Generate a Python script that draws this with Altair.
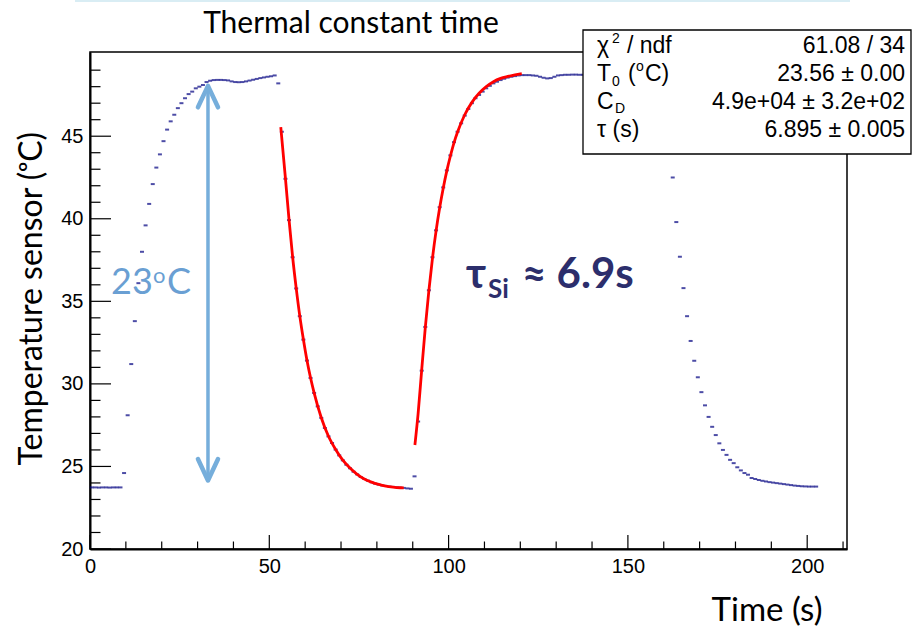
import altair as alt
import numpy as np
import pandas as pd

# ---------------- data (1 s sampling) ----------------
flat_start = [23.73, 23.73, 23.72, 23.73, 23.73, 23.72, 23.73, 23.73, 23.73]
rise_1 = [24.6, 28.1, 31.2, 33.8, 36.1, 38.0, 39.6, 40.9, 42.1, 43.1, 43.9, 44.7,
          45.4, 45.9, 46.3, 46.7, 47.0, 47.3, 47.55, 47.7, 47.9, 48.0, 48.1, 48.28, 48.36]
plateau_1 = [48.4, 48.41, 48.41, 48.4, 48.38, 48.32, 48.28, 48.27, 48.28, 48.32,
             48.37, 48.42, 48.47, 48.52, 48.56, 48.6, 48.63, 48.68, 48.2]
decay_1 = [45.27, 42.42, 39.92, 37.67, 35.78, 34.1, 32.68, 31.41, 30.36, 29.45,
           28.64, 27.94, 27.33, 26.82, 26.42, 26.02, 25.67, 25.37, 25.11, 24.89,
           24.68, 24.52, 24.36, 24.24, 24.14, 24.04, 23.96, 23.9, 23.85, 23.82,
           23.78, 23.76, 23.74, 23.72, 23.7, 23.67, 23.65]
rise_2 = [24.4, 27.72, 30.8, 33.45, 35.67, 37.67, 39.3, 40.7, 41.9, 42.93, 43.84,
          44.64, 45.27, 45.78, 46.25, 46.65, 47.0, 47.3, 47.5, 47.7, 47.9, 48.05,
          48.2, 48.3, 48.4, 48.48, 48.55, 48.6, 48.64, 48.68, 48.7]
plateau_2 = [48.7, 48.7, 48.68, 48.66, 48.6, 48.54, 48.5, 48.52, 48.6, 48.68, 48.7,
             48.72, 48.72, 48.73, 48.73, 48.72, 48.72,
             48.72, 48.71, 48.7, 48.7, 48.69, 48.7, 48.71, 48.72, 48.72, 48.71, 48.7,
             48.7, 48.69, 48.7, 48.71, 48.72, 48.72, 48.71, 48.7, 48.7, 48.7, 48.71,
             48.7, 45.3]
decay_2 = [42.5, 39.8, 37.7, 35.8, 34.1, 32.6, 31.4, 30.4, 29.5, 28.7, 28.0, 27.4,
           26.9, 26.4, 26.0, 25.7, 25.4, 25.2, 24.95, 24.76, 24.6, 24.5, 24.3, 24.24,
           24.18, 24.13, 24.09, 24.05, 24.02, 23.99, 23.96, 23.93, 23.9, 23.87, 23.84,
           23.82, 23.8, 23.79, 23.78, 23.78, 23.78]

temps = flat_start + rise_1 + plateau_1 + decay_1 + rise_2 + plateau_2 + decay_2
time_s = np.arange(len(temps)) + 0.5

fit1_time = [53.2, 54.5, 55.5, 56.5, 57.5, 58.5, 59.5, 60.5, 61.5, 62.5, 64.5, 66.5,
             68.5, 70.5, 72.5, 74.5, 76.5, 78.5, 80.5, 82.5, 84.5, 86.5, 87.5]
fit1_temp = [45.55, 42.45, 39.95, 37.7, 35.8, 34.12, 32.7, 31.43, 30.37, 29.46, 27.95,
             26.83, 26.03, 25.38, 24.9, 24.52, 24.24, 24.05, 23.91, 23.81, 23.75, 23.71, 23.7]
fit2_time = [90.6, 91.5, 92.5, 93.5, 94.5, 95.5, 96.5, 97.5, 98.5, 99.5, 100.5, 101.5,
             102.5, 104.5, 106.5, 108.5, 110.5, 112.5, 114.5, 116.5, 118.5, 120.4]
fit2_temp = [26.3, 28.2, 30.85, 33.4, 35.65, 37.6, 39.25, 40.65, 41.85, 42.9, 43.8,
             44.6, 45.25, 46.3, 47.05, 47.6, 48.0, 48.3, 48.5, 48.62, 48.72, 48.79]

y_major = [20, 25, 30, 35, 40, 45]
y_minor = [v for v in range(21, 50) if v % 5]
x_major = [0, 50, 100, 150, 200]
x_minor = [v for v in range(10, 211, 10) if v % 50]

arrow_time = 32.9
arrow_top = 48.05
arrow_bottom = 24.15

stats_right = ["61.08 / 34", "23.56 ± 0.00", "4.9e+04 ± 3.2e+02", "6.895 ± 0.005"]

# ---------------- chart ----------------
W, H = 757, 497
xs = alt.Scale(domain=[0, 211.1], nice=False, zero=False)
ys = alt.Scale(domain=[20, 50.1], nice=False, zero=False)
AX = alt.Axis(values=x_major, title="Time (s)", titleX=732, titleY=71, titleAlign="right",
              titleBaseline="alphabetic", titleFontSize=33, labelPadding=7, labelFlush=False,
              labelOverlap=False)
AY = alt.Axis(values=y_major, title="Temperature sensor (ᵒC)", titleAngle=270, titleAlign="left",
              titleBaseline="alphabetic", titleX=-49, titleY=413, titleFontSize=32, labelPadding=7,
              labelFlush=False, labelOverlap=False)
NAVY = "#000080"

df = pd.DataFrame({"time": time_s, "temp": temps})
fits = pd.DataFrame({
    "time": fit1_time + fit2_time,
    "temp": fit1_temp + fit2_temp,
    "seg": ["a"] * len(fit1_time) + ["b"] * len(fit2_time),
})
one = pd.DataFrame({"k": [0]})

points = alt.Chart(df).mark_tick(orient="horizontal", size=4, thickness=2, color=NAVY).encode(
    x=alt.X("time:Q", scale=xs, axis=AX),
    y=alt.Y("temp:Q", scale=ys, axis=AY),
)

fit_lines = alt.Chart(fits).mark_line(color="#ff0000", strokeWidth=2.8, interpolate="monotone").encode(
    x=alt.X("time:Q", scale=xs, axis=AX),
    y=alt.Y("temp:Q", scale=ys, axis=AY),
    detail="seg:N",
)

def yticks(vals, length):
    return alt.Chart(pd.DataFrame({"temp": vals})).mark_rule(color="black", strokeWidth=1.2).encode(
        y=alt.Y("temp:Q", scale=ys, axis=AY), x=alt.value(0), x2=alt.value(length))

def xticks(vals, length):
    return alt.Chart(pd.DataFrame({"time": vals})).mark_rule(color="black", strokeWidth=1.2).encode(
        x=alt.X("time:Q", scale=xs, axis=AX), y=alt.value(H), y2=alt.value(H - length))

ARROW = "#76aedb"
shaft = alt.Chart(pd.DataFrame({"time": [arrow_time], "temp": [arrow_top], "b": [arrow_bottom]})).mark_rule(
    color=ARROW, strokeWidth=3.5).encode(
    x=alt.X("time:Q", scale=xs, axis=AX), y=alt.Y("temp:Q", scale=ys, axis=AY), y2="b:Q")
heads = pd.DataFrame({
    "time": [arrow_time - 2.8, arrow_time, arrow_time + 2.8, arrow_time - 2.8, arrow_time, arrow_time + 2.8],
    "temp": [arrow_top - 1.3, arrow_top, arrow_top - 1.3, arrow_bottom + 1.3, arrow_bottom, arrow_bottom + 1.3],
    "h": ["top"] * 3 + ["bottom"] * 3,
    "o": [0, 1, 2, 0, 1, 2],
})
head_lines = alt.Chart(heads).mark_line(color=ARROW, strokeWidth=4.5, strokeCap="round", strokeJoin="round").encode(
    x=alt.X("time:Q", scale=xs, axis=AX), y=alt.Y("temp:Q", scale=ys, axis=AY),
    detail="h:N", order="o:Q")

def label(txt, px, py, size, color="black", font="Liberation Sans", weight="normal", align="left"):
    return alt.Chart(one).mark_text(text=txt, font=font, fontSize=size, fontWeight=weight, color=color,
                                    align=align, baseline="alphabetic").encode(
        x=alt.value(px - 90), y=alt.value(py - 52))

box = alt.Chart(one).mark_rect(fill="white", stroke="black", strokeWidth=1.3).encode(
    x=alt.value(493), x2=alt.value(821), y=alt.value(-22), y2=alt.value(102))

top_line = alt.Chart(one).mark_rule(color="#d9edf4", strokeWidth=2).encode(
    x=alt.value(-15), x2=alt.value(760), y=alt.value(-51))

SF = 23
SS = 14
row_y = [53, 81, 109, 137]
stats = [
    label("χ", 597, row_y[0], SF), label("2", 612, row_y[0] - 10, SS), label("/ ndf", 627, row_y[0], SF),
    label("T", 597, row_y[1], SF), label("0", 612, row_y[1] + 5, SS), label("(", 628, row_y[1], SF),
    label("o", 636, row_y[1] - 10, SS), label("C)", 645, row_y[1], SF),
    label("C", 597, row_y[2], SF), label("D", 615, row_y[2] + 4, 14),
    label("τ (s)", 597, row_y[3], SF),
] + [label(s, 905, yy, SF, align="right") for s, yy in zip(stats_right, row_y)]

BLUE = "#6a9fd3"
DARK = "#2c2e6c"
notes = [
    alt.Chart(one).mark_text(text="Thermal constant time", font="Lato", fontSize=30,
                             align="center", baseline="alphabetic", color="black").encode(
        x=alt.value(351 - 90), y=alt.value(33 - 52)),
    label("23", 111, 294, 36, color=BLUE, font="Lato"),
    label("o", 153, 283, 22, color=BLUE, font="Lato"),
    label("C", 167, 294, 36, color=BLUE, font="Lato"),
    label("τ", 466, 288, 42, color=DARK, font="Lato", weight="bold"),
    label("Si", 488, 298, 26, color=DARK, font="Lato", weight="bold"),
    label("≈ 6.9s", 522, 288, 42, color=DARK, font="Lato", weight="bold"),
]

chart = alt.layer(
    top_line,
    points,
    fit_lines,
    yticks(y_major, 21), yticks(y_minor, 10.5),
    xticks(x_major, 14), xticks(x_minor, 7.5),
    shaft, head_lines,
    box,
    *stats,
    *notes,
).properties(
    width=W, height=H,
    autosize=alt.AutoSizeParams(type="none"),
    padding={"left": 90, "top": 52, "right": 66, "bottom": 79},
).configure_view(
    stroke="black", strokeWidth=1.5
).configure_axis(
    labelFont="Liberation Sans", labelFontSize=20, labelColor="black",
    domainColor="black", domainWidth=2, ticks=False, grid=False,
    titleFont="Lato", titleFontWeight="normal", titleColor="black",
)

chart.save("out.html", embed_options={"renderer": "svg", "actions": False})
